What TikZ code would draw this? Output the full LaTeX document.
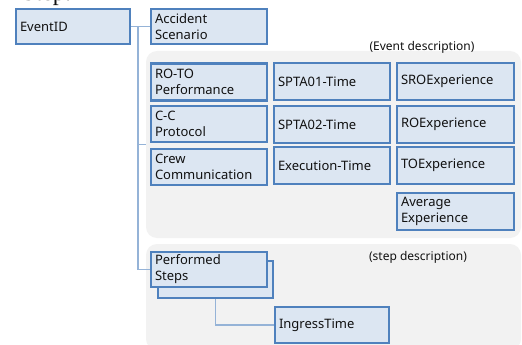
\documentclass[tikz,border=0pt]{standalone}
\usepackage{fontspec}
\setmainfont{Noto Sans}
\newfontfamily\serifcut{Liberation Serif}
\definecolor{boxfill}{HTML}{DCE6F2}
\definecolor{boxline}{HTML}{4F81BD}
\definecolor{connline}{HTML}{95B3D7}
\definecolor{panelfill}{HTML}{F2F2F2}
\definecolor{txt}{HTML}{111111}
\tikzset{
  entbox/.style={draw=boxline, fill=boxfill, line width=2.2pt, inner sep=0pt,
    align=left, text=txt, font=\fontsize{13}{16}\selectfont},
  panel/.style={fill=panelfill, draw=none, rounded corners=11pt, inner sep=0pt},
  conn/.style={draw=connline, line width=1.2pt},
  note/.style={text=txt, font=\fontsize{12}{14}\selectfont, inner sep=0pt}
}
\begin{document}
\begin{tikzpicture}[x=1pt,y=-1pt]
\useasboundingbox (0,0) rectangle (522,345);
\fill[white] (0,0) rectangle (522,345);
% clipped heading fragment
\begin{scope}
\clip (0,0) rectangle (522,345);
\node[anchor=base west, inner sep=0pt, font=\serifcut\fontsize{24}{24}\selectfont, text=txt] (heading) at (22,0.5) {Step:};
\end{scope}
% panels
\node[panel, minimum width=375pt, minimum height=187pt] (panelA) at (333.5,144.5) {};
\node[panel, minimum width=375pt, minimum height=106pt] (panelB) at (333.5,297) {};
\node[note] (evdesc) at (422,47) {(Event description)};
\node[note] (stdesc) at (418,257) {(step description)};
% boxes
\node[entbox, minimum width=114pt, minimum height=35pt, text width=106pt] (eid) at (73,26.5) {EventID};
\node[entbox, minimum width=116pt, minimum height=35pt, text width=108pt] (acc) at (209,26.5) {Accident\\Scenario};
\node[entbox, minimum width=116pt, minimum height=37pt, text width=108pt] (rot) at (209,82) {RO-TO\\Performance};
\node[entbox, minimum width=116pt, minimum height=36pt, text width=108pt] (cc) at (209,124) {C-C\\Protocol};
\node[entbox, minimum width=116pt, minimum height=36pt, text width=108pt] (crew) at (209,167) {Crew\\Communication};
\node[entbox, minimum width=116pt, minimum height=37pt, text width=108pt] (s1) at (332,81.5) {SPTA01-Time};
\node[entbox, minimum width=116pt, minimum height=37pt, text width=108pt] (s2) at (332,124.5) {SPTA02-Time};
\node[entbox, minimum width=116pt, minimum height=37pt, text width=108pt] (ex) at (332,165.5) {Execution-Time};
\node[entbox, minimum width=117pt, minimum height=37pt, text width=109pt] (sro) at (455.5,81.5) {SROExperience};
\node[entbox, minimum width=117pt, minimum height=37pt, text width=109pt] (ro) at (455.5,124.5) {ROExperience};
\node[entbox, minimum width=117pt, minimum height=37pt, text width=109pt] (to) at (455.5,165.5) {TOExperience};
\node[entbox, minimum width=117pt, minimum height=37pt, text width=109pt] (avg) at (455.5,211.5) {Average\\Experience};
\node[entbox, minimum width=115pt, minimum height=37pt] (psb) at (215.5,279.5) {};
\node[entbox, minimum width=116pt, minimum height=35pt, text width=108pt] (psf) at (209,269.5) {Performed\\Steps};
\node[entbox, minimum width=114pt, minimum height=36pt, text width=106pt] (ing) at (332,325) {IngressTime};
% connectors
\coordinate (trunk) at (138,0);
\draw[conn] (eid.east) -- (acc.west);
\draw[conn] (eid.east -| trunk) |- (psf.west);
\draw[conn] (panelA.west -| trunk) -- (panelA.west);
\draw[conn] (psb.south) |- (ing.west);
\end{tikzpicture}
\end{document}
